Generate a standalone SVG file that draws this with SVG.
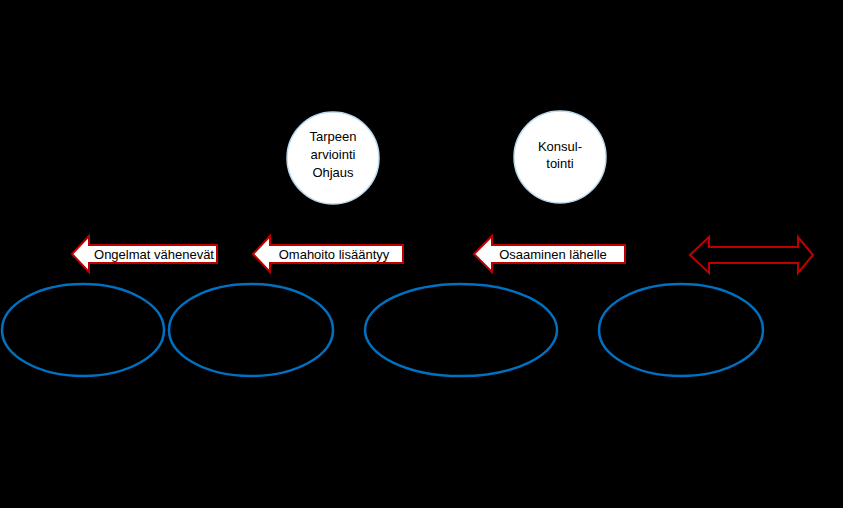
<svg xmlns="http://www.w3.org/2000/svg" width="843" height="508" viewBox="0 0 843 508">
<style>
.t{font-family:"Liberation Sans",Arial,sans-serif;font-size:13px;fill:#000;text-anchor:middle}
.c{fill:#fff;stroke:#bcd9ee;stroke-width:1.5}
.a{fill:#fff;stroke:#c00000;stroke-width:2}
.e{fill:none;stroke:#0070c0;stroke-width:2.5}
</style>
<rect width="843" height="508" fill="#000"/>
<g id="tarpeen"><circle class="c" cx="333" cy="158" r="46"/>
<text class="t" x="333" y="141">Tarpeen</text><text class="t" x="333" y="159">arviointi</text><text class="t" x="333" y="177">Ohjaus</text></g>
<g id="konsultointi"><circle class="c" cx="560" cy="157" r="46"/>
<text class="t" x="560" y="151">Konsul-</text><text class="t" x="560" y="168">tointi</text></g>
<g id="arrow1"><polygon class="a" points="72,254 89,236 89,245 217,245 217,263 89,263 89,272"/>
<text class="t" x="154" y="259">Ongelmat vähenevät</text></g>
<g id="arrow2"><polygon class="a" points="253,254 270,236 270,245 403,245 403,263 270,263 270,272"/>
<text class="t" x="334" y="259">Omahoito lisääntyy</text></g>
<g id="arrow3"><polygon class="a" points="474,254 492,236 492,245 625,245 625,263 492,263 492,272"/>
<text class="t" x="553" y="259">Osaaminen lähelle</text></g>
<g id="arrow4"><polygon points="690,255 709,237 709,247 798,247 798,237 813,255 798,273 798,263 709,263 709,273" fill="none" stroke="#c00000" stroke-width="2"/></g>
<g id="ellipse1"><ellipse class="e" cx="83" cy="330" rx="81" ry="46"/></g>
<g id="ellipse2"><ellipse class="e" cx="251" cy="330" rx="82" ry="46"/></g>
<g id="ellipse3"><ellipse class="e" cx="461" cy="330" rx="96" ry="46"/></g>
<g id="ellipse4"><ellipse class="e" cx="681" cy="330" rx="82" ry="46"/></g>
<g id="connectors"></g>
</svg>
